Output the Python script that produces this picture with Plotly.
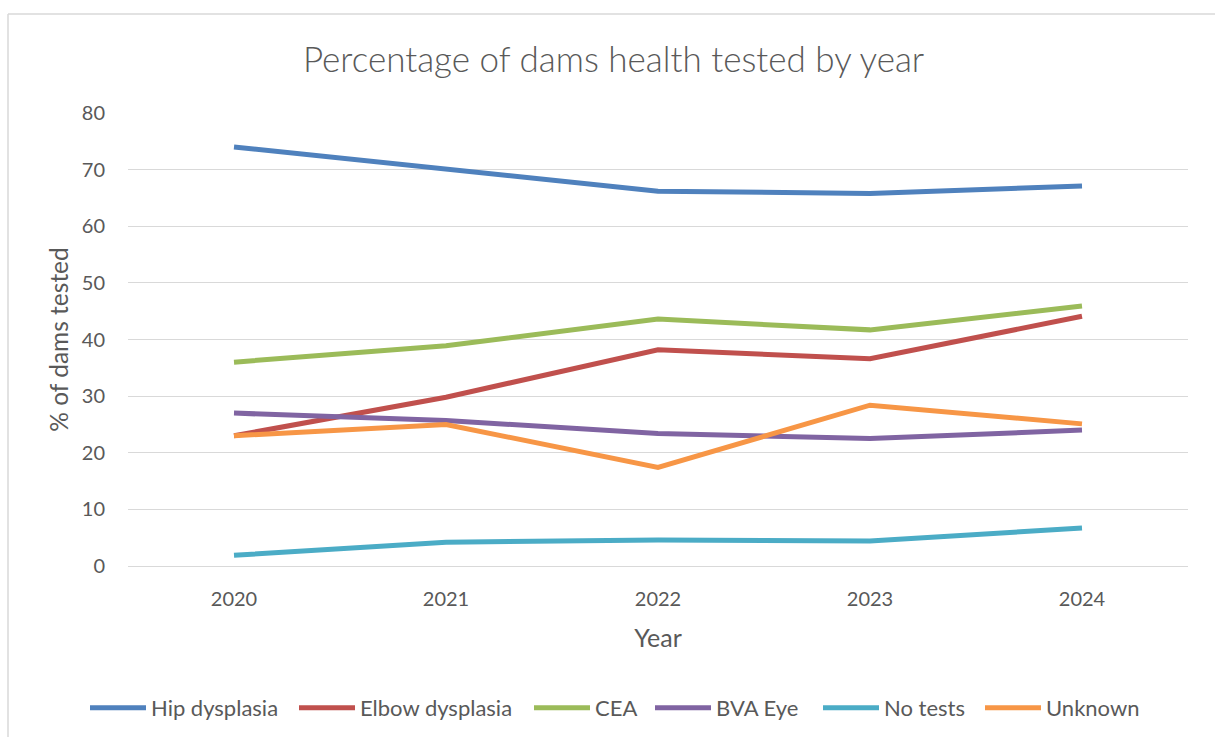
import plotly.graph_objects as go

years = ["2020", "2021", "2022", "2023", "2024"]

hip_dysplasia = [74.0, 70.2, 66.2, 65.8, 67.1]
elbow_dysplasia = [23.0, 29.8, 38.2, 36.6, 44.1]
cea = [36.0, 38.9, 43.6, 41.7, 45.9]
bva_eye = [27.0, 25.7, 23.4, 22.5, 24.0]
no_tests = [1.9, 4.2, 4.6, 4.4, 6.7]
unknown = [23.0, 25.0, 17.4, 28.4, 25.1]

series = [
    ("Hip dysplasia", hip_dysplasia, "#4F81BD"),
    ("Elbow dysplasia", elbow_dysplasia, "#C0504D"),
    ("CEA", cea, "#9BBB59"),
    ("BVA Eye", bva_eye, "#8064A2"),
    ("No tests", no_tests, "#4BACC6"),
    ("Unknown", unknown, "#F79646"),
]

# left edge (px) of each legend entry along the bottom row
legend_x = [93, 302, 537, 658, 826, 988]

FONT = "Lato, 'Open Sans', sans-serif"
GREY = "#595959"

W, H = 1215, 737
L, R, T, B = 128, 27, 113, 171
pw, ph = W - L - R, H - T - B

fig = go.Figure()
legend_layouts = {}
for i, (name, vals, color) in enumerate(series):
    key = "legend" if i == 0 else f"legend{i + 1}"
    fig.add_trace(go.Scatter(
        x=years, y=vals, name=name, mode="lines",
        line=dict(color=color, width=5), legend=key,
    ))
    legend_layouts[key] = dict(
        orientation="h", xref="container", yref="container",
        x=(legend_x[i] - 8) / W, xanchor="left",
        y=1 - 708 / H, yanchor="middle",
        font=dict(size=22, color=GREY, family=FONT),
        itemwidth=56, bgcolor="rgba(0,0,0,0)",
    )

def px_x(p):
    return (p - L) / pw

def px_y(p):
    return (H - B - p) / ph

# Outer chart frame (top and left edges)
frame = dict(color="#d9d9d9", width=1.5)
fig.add_shape(type="line", xref="paper", yref="paper",
              x0=px_x(8), x1=px_x(8), y0=px_y(H + 20), y1=px_y(14), line=frame)
fig.add_shape(type="line", xref="paper", yref="paper",
              x0=px_x(8), x1=px_x(W + 20), y0=px_y(14), y1=px_y(14), line=frame)

fig.update_layout(
    width=W, height=H,
    margin=dict(l=L, r=R, t=T, b=B, autoexpand=False),
    paper_bgcolor="white", plot_bgcolor="white",
    font=dict(family=FONT, color=GREY, size=20),
    title=dict(text="Percentage of dams health tested by year",
               x=0.505, xanchor="center", y=1 - 60 / H, yanchor="middle",
               font=dict(size=35, color=GREY, family=FONT, weight=300)),
    xaxis=dict(
        type="category", range=[-0.5, 4.5],
        showgrid=False, showline=False, zeroline=False,
        ticks="", ticklabelstandoff=19, automargin=False,
        tickfont=dict(size=20, color=GREY),
        title=dict(text="Year", font=dict(size=25, color=GREY), standoff=20),
    ),
    yaxis=dict(
        range=[0, 80], dtick=10, automargin=False,
        showgrid=True, gridcolor="#d9d9d9", gridwidth=1.3,
        zeroline=True, zerolinecolor="#d9d9d9", zerolinewidth=1.3,
        showline=False, ticks="", ticklabelstandoff=22,
        tickfont=dict(size=20, color=GREY),
        title=dict(text="% of dams tested", font=dict(size=24.5, color=GREY), standoff=6),
    ),
    showlegend=True,
    **legend_layouts,
)

fig.write_html("out.html")
